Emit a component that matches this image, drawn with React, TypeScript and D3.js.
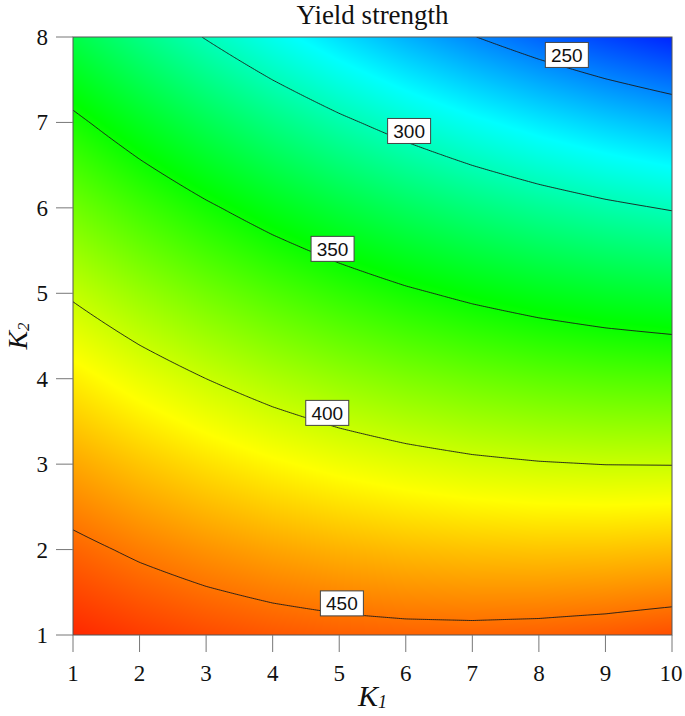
import React, { useMemo } from 'react';
import * as d3 from 'd3';

const k1Values = [1, 2, 3, 4, 5, 6, 7, 8, 9, 10];
const k2Values = [1, 2, 3, 4, 5, 6, 7, 8];

// yield strength, one row per K2 value, K1 = 1..10 across
const strengthK2At1 = [469.8, 464.8, 460.7, 457.6, 455.5, 454.4, 454.2, 455.1, 456.9, 459.7];
const strengthK2At2 = [454.0, 447.4, 441.9, 437.3, 433.7, 431.0, 429.4, 428.7, 429.0, 430.3];
const strengthK2At3 = [436.7, 428.7, 421.6, 415.5, 410.4, 406.3, 403.1, 401.0, 399.8, 399.6];
const strengthK2At4 = [418.1, 408.5, 400.0, 392.4, 385.8, 380.1, 375.5, 371.8, 369.1, 367.4];
const strengthK2At5 = [398.0, 386.9, 376.9, 367.8, 359.7, 352.5, 346.4, 341.2, 337.0, 333.8];
const strengthK2At6 = [376.5, 363.9, 352.4, 341.8, 332.2, 323.5, 315.9, 309.2, 303.5, 298.8];
const strengthK2At7 = [353.5, 339.5, 326.4, 314.3, 303.2, 293.1, 283.9, 275.8, 268.6, 262.4];
const strengthK2At8 = [329.2, 313.6, 299.1, 285.5, 272.9, 261.2, 250.6, 240.9, 232.2, 224.5];
const strengthRows = [
  strengthK2At1, strengthK2At2, strengthK2At3, strengthK2At4,
  strengthK2At5, strengthK2At6, strengthK2At7, strengthK2At8,
];

// contour lines and where their labels sit
const contourLevels = [250, 300, 350, 400, 450];
const labelK1 = [8.42, 6.05, 4.9, 4.82, 5.04];
const labelK2 = [7.79, 6.9, 5.52, 3.6, 1.37];

const k1Ticks = [1, 2, 3, 4, 5, 6, 7, 8, 9, 10];
const k2Ticks = [1, 2, 3, 4, 5, 6, 7, 8];

// colour ramp ends (red at the top, blue at the bottom)
const rampHigh = 480;
const rampLow = 215;

const width = 685;
const height = 716;
const margin = { top: 37, right: 13, bottom: 81, left: 73 };

const serif = '"Liberation Serif", "Times New Roman", serif';
const sans = '"Liberation Sans", Arial, sans-serif';

// bilinear lookup in the grid
function strengthAt(k1, k2) {
  const i = Math.max(0, Math.min(k1Values.length - 2, d3.bisectRight(k1Values, k1) - 1));
  const j = Math.max(0, Math.min(k2Values.length - 2, d3.bisectRight(k2Values, k2) - 1));
  const tx = (k1 - k1Values[i]) / (k1Values[i + 1] - k1Values[i]);
  const ty = (k2 - k2Values[j]) / (k2Values[j + 1] - k2Values[j]);
  const v00 = strengthRows[j][i];
  const v10 = strengthRows[j][i + 1];
  const v01 = strengthRows[j + 1][i];
  const v11 = strengthRows[j + 1][i + 1];
  return (v00 * (1 - tx) + v10 * tx) * (1 - ty) + (v01 * (1 - tx) + v11 * tx) * ty;
}

function colourFor(v) {
  const t = Math.max(0, Math.min(1, (rampHigh - v) / (rampHigh - rampLow)));
  return d3.hsl(240 * t, 1, 0.5).rgb();
}

export default function App() {
  const x = d3.scaleLinear().domain([1, 10]).range([margin.left, width - margin.right]);
  const y = d3.scaleLinear().domain([1, 8]).range([height - margin.bottom, margin.top]);
  const plotW = x(10) - x(1);
  const plotH = y(1) - y(8);

  // colour field painted into a canvas, then used as an svg image
  const heatUrl = useMemo(() => {
    const w = Math.round(plotW);
    const h = Math.round(plotH);
    const canvas = document.createElement('canvas');
    canvas.width = w;
    canvas.height = h;
    const ctx = canvas.getContext('2d');
    const img = ctx.createImageData(w, h);
    for (let py = 0; py < h; py++) {
      const k2 = y.invert(y(8) + py + 0.5);
      for (let px = 0; px < w; px++) {
        const k1 = x.invert(x(1) + px + 0.5);
        const c = colourFor(strengthAt(k1, k2));
        const o = (py * w + px) * 4;
        img.data[o] = c.r;
        img.data[o + 1] = c.g;
        img.data[o + 2] = c.b;
        img.data[o + 3] = 255;
      }
    }
    ctx.putImageData(img, 0, 0);
    return canvas.toDataURL();
  }, []);

  // contour lines from a finer sampling of the grid
  const contourPaths = useMemo(() => {
    const nx = 301;
    const ny = 241;
    const values = new Array(nx * ny);
    for (let j = 0; j < ny; j++) {
      const k2 = 8 - (7 * j) / (ny - 1);
      for (let i = 0; i < nx; i++) {
        const k1 = 1 + (9 * i) / (nx - 1);
        values[j * nx + i] = strengthAt(k1, k2);
      }
    }
    const sx = (c) => x(1) + ((c - 0.5) * plotW) / (nx - 1);
    const sy = (c) => y(8) + ((c - 0.5) * plotH) / (ny - 1);
    const gen = d3.contours().size([nx, ny]).thresholds(contourLevels);
    return gen(values).map((mp) => {
      let d = '';
      mp.coordinates.forEach((poly) => {
        poly.forEach((ring) => {
          d += 'M' + ring.map((p) => `${sx(p[0]).toFixed(2)},${sy(p[1]).toFixed(2)}`).join('L') + 'Z';
        });
      });
      return { level: mp.value, d };
    });
  }, []);

  return (
    <svg
      width={width}
      height={height}
      style={{ display: 'block', position: 'absolute', left: 0, top: 0 }}
    >
      <defs>
        <clipPath id="plot-clip">
          <rect x={x(1)} y={y(8)} width={plotW} height={plotH} />
        </clipPath>
      </defs>
      <rect x={0} y={0} width={width} height={height} fill="#fff" />

      <text x={(x(1) + x(10)) / 2} y={24} textAnchor="middle" fontFamily={serif} fontSize={27} fill="#111">
        Yield strength
      </text>

      <image href={heatUrl} x={x(1)} y={y(8)} width={plotW} height={plotH} preserveAspectRatio="none" />

      <g clipPath="url(#plot-clip)">
        {contourPaths.map((c) => (
          <path key={c.level} d={c.d} fill="none" stroke="#1a1a1a" strokeWidth={0.9} />
        ))}
      </g>

      {contourLevels.map((lvl, i) => {
        const cx = x(labelK1[i]);
        const cy = y(labelK2[i]);
        return (
          <g key={lvl}>
            <rect x={cx - 21.5} y={cy - 12.5} width={43} height={25} fill="#fff" stroke="#444" strokeWidth={1} />
            <text x={cx} y={cy + 7} textAnchor="middle" fontFamily={sans} fontSize={19} fill="#111">
              {lvl}
            </text>
          </g>
        );
      })}

      <rect x={x(1)} y={y(8)} width={plotW} height={plotH} fill="none" stroke="#555" strokeWidth={1} />

      {/* left axis */}
      {k2Ticks.map((t) => (
        <g key={'y' + t}>
          <line x1={x(1) - 17} x2={x(1)} y1={y(t)} y2={y(t)} stroke="#777" strokeWidth={1} />
          <text x={x(1) - 25} y={y(t) + 8} textAnchor="end" fontFamily={serif} fontSize={23} fill="#111">
            {t}
          </text>
        </g>
      ))}

      {/* bottom axis */}
      {k1Ticks.map((t) => (
        <g key={'x' + t}>
          <line x1={x(t)} x2={x(t)} y1={y(1)} y2={y(1) + 17} stroke="#777" strokeWidth={1} />
          <text x={t === 10 ? x(t) - 1 : x(t)} y={y(1) + 46} textAnchor="middle" fontFamily={serif} fontSize={23} fill="#111">
            {t}
          </text>
        </g>
      ))}

      <text x={(x(1) + x(10)) / 2} y={706} textAnchor="middle" fontFamily={serif} fontStyle="italic" fontSize={30} fill="#111">
        K<tspan fontSize={18} dy={2}>1</tspan>
      </text>
      <text
        transform={`translate(27, ${(y(1) + y(8)) / 2}) rotate(-90)`}
        textAnchor="middle"
        fontFamily={serif}
        fontStyle="italic"
        fontSize={28}
        fill="#111"
      >
        K<tspan fontSize={17} dy={2}>2</tspan>
      </text>
    </svg>
  );
}
